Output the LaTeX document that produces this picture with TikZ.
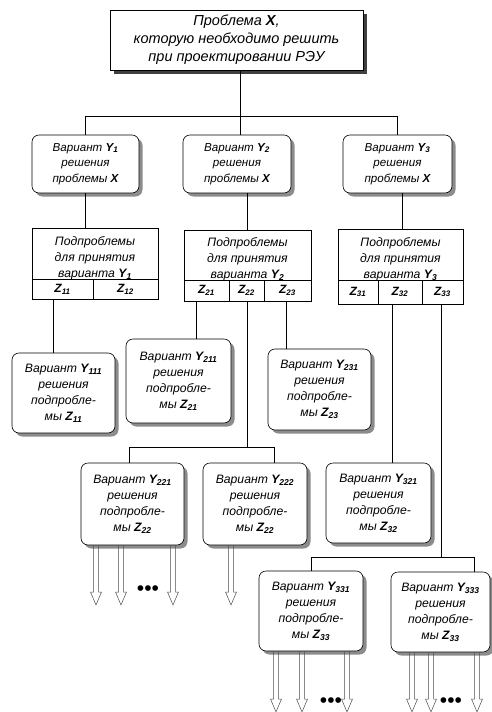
\documentclass[tikz,border=0pt]{standalone}
\usepackage{fontspec}
\setmainfont{Liberation Sans}
\usetikzlibrary{shadows,calc}
\newcommand\bY[1]{\textbf{Y\textsubscript{#1}}}
\newcommand\bZ[1]{\textbf{Z\textsubscript{#1}}}
\newcommand\bX{\textbf{X}}
\newcommand\harrow[2]{%
  \draw[harr] ($(#1)+(-2.5,0)$) -- ($(#2)+(-2.5,-13)$) -- ($(#2)+(-5.5,-13)$) -- (#2)
    -- ($(#2)+(5.5,-13)$) -- ($(#2)+(2.5,-13)$) -- ($(#1)+(2.5,0)$);}
\begin{document}
\begin{tikzpicture}[x=1pt,y=-1pt,
  every node/.style={font=\itshape, align=center, inner sep=0pt},
  topbox/.style={draw, fill=white, line width=0.8pt,
     drop shadow={shadow xshift=4pt, shadow yshift=-4pt, fill=black!75, opacity=1},
     font=\itshape\fontsize{14.5}{18}\selectfont},
  rbox/.style={draw, fill=white, rounded corners=7pt, line width=0.6pt,
     drop shadow={shadow xshift=3.5pt, shadow yshift=-3.5pt, fill=black!45, opacity=1},
     font=\itshape\fontsize{12.2}{16}\selectfont},
  vbox/.style={rbox, font=\itshape\fontsize{11.6}{15.6}\selectfont},
  subhead/.style={draw, fill=white, line width=0.6pt},
  subtext/.style={font=\itshape\fontsize{12.2}{16}\selectfont},
  zcell/.style={draw, line width=0.6pt, font=\itshape\fontsize{12}{14}\selectfont},
  conn/.style={line width=0.6pt},
  harr/.style={line width=0.5pt, draw=black!70},
  dots/.style={font=\fontsize{21}{21}\selectfont}
]
\useasboundingbox (0,0) rectangle (492,712);

% top
\node[topbox, minimum width=253, minimum height=60] (t) at (236.5,40)
  {Проблема \bX,\\которую необходимо решить\\при проектировании РЭУ};

% variants
\node[vbox, minimum width=107, minimum height=58] (v1) at (85.5,164) {Вариант \bY{1}\\решения\\проблемы \bX};
\node[vbox, minimum width=108, minimum height=58] (v2) at (237,164) {Вариант \bY{2}\\решения\\проблемы \bX};
\node[vbox, minimum width=109, minimum height=58] (v3) at (397.5,164) {Вариант \bY{3}\\решения\\проблемы \bX};

% subproblem boxes
\node[subhead, minimum width=126, minimum height=51] (s1) at (95,253.5) {};
\node[subtext] (s1t) at (95,258) {Подпроблемы\\для принятия\\варианта \bY{1}};
\node[zcell, minimum width=61, minimum height=20] (z11) at (62.5,289) {\bZ{11}};
\node[zcell, minimum width=65, minimum height=20] (z12) at (125.5,289) {\bZ{12}};

\node[subhead, minimum width=127, minimum height=50] (s2) at (247.5,255) {};
\node[subtext] (s2t) at (247.5,259.5) {Подпроблемы\\для принятия\\варианта \bY{2}};
\node[zcell, minimum width=45, minimum height=21] (z21) at (206.5,290.5) {\bZ{21}};
\node[zcell, minimum width=35, minimum height=21] (z22) at (246.5,290.5) {\bZ{22}};
\node[zcell, minimum width=47, minimum height=21] (z23) at (287.5,290.5) {\bZ{23}};

\node[subhead, minimum width=125, minimum height=51] (s3) at (400.5,254.5) {};
\node[subtext] (s3t) at (400.5,259) {Подпроблемы\\для принятия\\варианта \bY{3}};
\node[zcell, minimum width=40, minimum height=24] (z31) at (358,292) {\bZ{31}};
\node[zcell, minimum width=44, minimum height=24] (z32) at (400,292) {\bZ{32}};
\node[zcell, minimum width=41, minimum height=24] (z33) at (442.5,292) {\bZ{33}};

% level-3 variants
\node[rbox, minimum width=103, minimum height=80] (y111) at (63.5,393) {Вариант \bY{111}\\решения\\подпробле-\\мы \bZ{11}};
\node[rbox, minimum width=105, minimum height=84] (y211) at (178.5,381) {Вариант \bY{211}\\решения\\подпробле-\\мы \bZ{21}};
\node[rbox, minimum width=103, minimum height=81] (y231) at (319.5,389.5) {Вариант \bY{231}\\решения\\подпробле-\\мы \bZ{23}};
\node[rbox, minimum width=103, minimum height=82] (y221) at (132.5,504) {Вариант \bY{221}\\решения\\подпробле-\\мы \bZ{22}};
\node[rbox, minimum width=104, minimum height=82] (y222) at (255,504) {Вариант \bY{222}\\решения\\подпробле-\\мы \bZ{22}};
\node[rbox, minimum width=105, minimum height=80] (y321) at (378.5,503) {Вариант \bY{321}\\решения\\подпробле-\\мы \bZ{32}};
\node[rbox, minimum width=104, minimum height=80] (y331) at (311,611) {Вариант \bY{331}\\решения\\подпробле-\\мы \bZ{33}};
\node[rbox, minimum width=99, minimum height=80] (y333) at (440.5,612) {Вариант \bY{333}\\решения\\подпробле-\\мы \bZ{33}};

% bus levels
\coordinate (busA) at (0,116);
\coordinate (busB) at (0,447);
\coordinate (busC) at (0,557);
\coordinate (tipA) at (0,605);
\coordinate (tipB) at (0,712);

% connectors level 1
\draw[conn] ([xshift=3.5pt]t.south) -- ([xshift=3.5pt]t.south |- busA);
\draw[conn] (v1.north) -- (v1.north |- busA) -- (v3.north |- busA) -- (v3.north);
\draw[conn] ([xshift=3pt]v2.north |- busA) -- ([xshift=3pt]v2.north);
% variants to subproblems
\draw[conn] (v1.south) -- (v1.south |- s1.north);
\draw[conn] (v2.south -| s2.north) -- (s2.north);
\draw[conn] ([xshift=4.5pt]v3.south) -- ([xshift=4.5pt]v3.south |- s3.north);
% Z cells to variants
\draw[conn] ([xshift=-9.5pt]z11.south) -- ([xshift=-9.5pt]z11.south |- y111.north);
\draw[conn] ([xshift=-10.5pt]z21.south) -- ([xshift=-10.5pt]z21.south |- y211.north);
\draw[conn] ([xshift=-1.5pt]z23.south) -- ([xshift=-1.5pt]z23.south |- y231.north);
\draw[conn] ([xshift=0.5pt]z22.south) -- ([xshift=0.5pt]z22.south |- busB);
\draw[conn] ([xshift=-3.5pt]y221.north) -- ([xshift=-3.5pt]y221.north |- busB) -- ([xshift=19pt]y222.north |- busB) -- ([xshift=19pt]y222.north);
\draw[conn] ([xshift=-8pt]z32.south) -- ([xshift=-8pt]z32.south |- y321.north);
\draw[conn] ([xshift=-1.5pt]z33.south) -- ([xshift=-1.5pt]z33.south |- busC);
\draw[conn] (y331.north) -- (y331.north |- busC) -- ([xshift=33.5pt]y333.north |- busC) -- ([xshift=33.5pt]y333.north);

% hollow arrows
\coordinate (a1) at ([xshift=-36.5pt]y221.south);
\coordinate (a2) at ([xshift=-11.5pt]y221.south);
\coordinate (a3) at ([xshift=40.5pt]y221.south);
\coordinate (a4) at ([xshift=-24pt]y222.south);
\coordinate (a5) at ([xshift=-35pt]y331.south);
\coordinate (a6) at ([xshift=-9pt]y331.south);
\coordinate (a7) at ([xshift=36pt]y331.south);
\coordinate (a8) at ([xshift=-28.5pt]y333.south);
\coordinate (a9) at ([xshift=-9.5pt]y333.south);
\coordinate (a10) at ([xshift=36.5pt]y333.south);
\foreach \a in {1,2,3,4}{\coordinate (e\a) at (a\a |- tipA); \harrow{a\a}{e\a}}
\foreach \a in {5,6,7,8,9,10}{\coordinate (e\a) at (a\a |- tipB); \harrow{a\a}{e\a}}

\node[dots] (d1) at (148,591) {•••};
\node[dots] (d2) at (331,703) {•••};
\node[dots] (d3) at (451,703) {•••};
\end{tikzpicture}
\end{document}
